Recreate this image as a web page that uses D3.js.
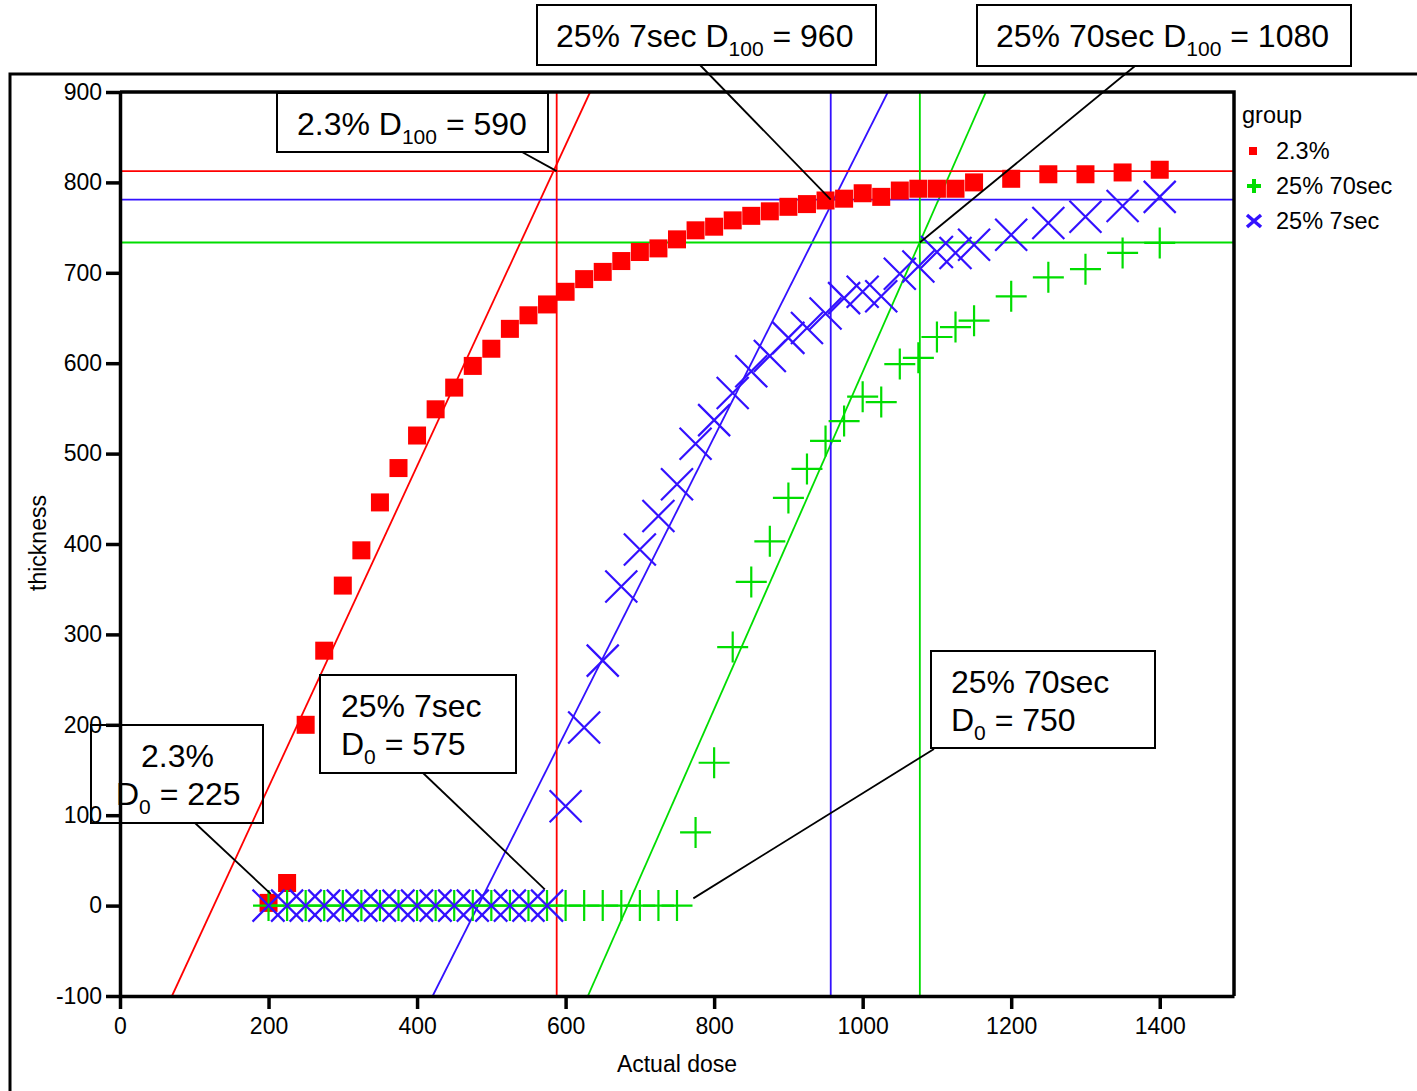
<!DOCTYPE html>
<html>
<head>
<meta charset="utf-8">
<script src="https://cdn.jsdelivr.net/npm/d3@7"></script>
<style>
  body { margin: 0; background: #fff; }
  svg { display: block; font-family: "Liberation Sans", Arial, sans-serif; }
</style>
</head>
<body>
<svg id="chart" width="1417" height="1091"></svg>
<script>
// ---- data ----
var groups = ['2.3%', '25% 70sec', '25% 7sec'];
var colors = ['#ff0000', '#00dd00', '#3311ff'];

var redDose = [200, 225, 250, 275, 300, 325, 350, 375, 400, 425, 450, 475, 500, 525, 550, 575, 600, 625, 650, 675, 700, 725, 750, 775, 800, 825, 850, 875, 900, 925, 950, 975, 1000, 1025, 1050, 1075, 1100, 1125, 1150, 1200, 1250, 1300, 1350, 1400];
var redThick = [3, 25, 200, 282, 354, 393, 446, 484, 520, 549, 573, 597, 616, 638, 653, 665, 679, 693, 701, 713, 723, 727, 737, 747, 751, 758, 763, 768, 773, 776, 780, 782, 788, 784, 791, 793, 793, 793, 800, 804, 809, 809, 811, 814];

var greenDose = [200, 225, 250, 275, 300, 325, 350, 375, 400, 425, 450, 475, 500, 525, 550, 575, 600, 625, 650, 675, 700, 725, 750, 775, 800, 825, 850, 875, 900, 925, 950, 975, 1000, 1025, 1050, 1075, 1100, 1125, 1150, 1200, 1250, 1300, 1350, 1400];
var greenThick = [0, 0, 0, 0, 0, 0, 0, 0, 0, 0, 0, 0, 0, 0, 0, 0, 0, 0, 0, 0, 0, 0, 0, 81, 158, 286, 358, 403, 451, 483, 514, 536, 563, 557, 599, 606, 629, 640, 647, 674, 695, 704, 722, 733];

var blueDose = [200, 225, 250, 275, 300, 325, 350, 375, 400, 425, 450, 475, 500, 525, 550, 575, 600, 625, 650, 675, 700, 725, 750, 775, 800, 825, 850, 875, 900, 925, 950, 975, 1000, 1025, 1050, 1075, 1100, 1125, 1150, 1200, 1250, 1300, 1350, 1400];
var blueThick = [0, 0, 0, 0, 0, 0, 0, 0, 0, 0, 0, 0, 0, 0, 0, 0, 110, 197, 271, 353, 394, 431, 466, 511, 537, 567, 591, 608, 628, 639, 655, 672, 679, 674, 699, 707, 723, 722, 731, 742, 755, 762, 774, 784];

// fitted straight lines: [dose at -100, dose at 900]
var fitDoseLow = [70, 630, 421];
var fitDoseHigh = [633, 1166, 1034];
// D100 reference lines
var d100Dose = [588, 1077, 957];
var d100Thick = [812.5, 733.5, 781];

var xTicks = [0, 200, 400, 600, 800, 1000, 1200, 1400];
var yTicks = [-100, 0, 100, 200, 300, 400, 500, 600, 700, 800, 900];

// annotation boxes: text lines, box, leader target in data units
var notes = [
  { lines: [['2.3% D', '100', ' = 590']], box: [277, 93, 271, 59], tx: [297], ty: [135], from: [522, 152], to: [588, 812.5] },
  { lines: [['25% 7sec D', '100', ' = 960']], box: [537, 5, 339, 60], tx: [556], ty: [47], from: [700, 65], to: [957, 781] },
  { lines: [['25% 70sec D', '100', ' = 1080']], box: [977, 5, 374, 61], tx: [996], ty: [47], from: [1135, 66], to: [1077, 733.5] },
  { lines: [['2.3%'], ['D', '0', ' = 225']], box: [91, 725, 172, 98], tx: [141, 116], ty: [767, 805], from: [195, 823], to: [203, 13] },
  { lines: [['25% 7sec'], ['D', '0', ' = 575']], box: [320, 675, 196, 98], tx: [341, 341], ty: [717, 755], from: [423, 773], to: [572, 18] },
  { lines: [['25% 70sec'], ['D', '0', ' = 750']], box: [931, 651, 224, 97], tx: [951, 951], ty: [693, 731], from: [934, 749], to: [772, 8] }
];

// ---- layout ----
var plot = { left: 120, top: 92, right: 1234, bottom: 996 };
var svg = d3.select('#chart');

var x = d3.scaleLinear().domain([0, 1500]).range([plot.left, plot.right]);
var y = d3.scaleLinear().domain([-100, 900]).range([plot.bottom, plot.top]);

svg.append('defs').append('clipPath').attr('id', 'clip')
  .append('rect')
  .attr('x', plot.left).attr('y', plot.top)
  .attr('width', plot.right - plot.left).attr('height', plot.bottom - plot.top);

var body = svg.append('g').attr('clip-path', 'url(#clip)');

// fit lines
body.selectAll('.fit').data(groups).enter().append('line')
  .attr('x1', function(d, i) { return x(fitDoseLow[i]); })
  .attr('y1', y(-100))
  .attr('x2', function(d, i) { return x(fitDoseHigh[i]); })
  .attr('y2', y(900))
  .attr('stroke', function(d, i) { return colors[i]; })
  .attr('stroke-width', 1.8);

// horizontal + vertical reference lines
body.selectAll('.href').data(groups).enter().append('line')
  .attr('x1', plot.left).attr('x2', plot.right)
  .attr('y1', function(d, i) { return y(d100Thick[i]); })
  .attr('y2', function(d, i) { return y(d100Thick[i]); })
  .attr('stroke', function(d, i) { return colors[i]; })
  .attr('stroke-width', 1.8);
body.selectAll('.vref').data(groups).enter().append('line')
  .attr('y1', plot.top).attr('y2', plot.bottom)
  .attr('x1', function(d, i) { return x(d100Dose[i]); })
  .attr('x2', function(d, i) { return x(d100Dose[i]); })
  .attr('stroke', function(d, i) { return colors[i]; })
  .attr('stroke-width', 1.8);

// red squares
var sq = 18;
body.selectAll('.sq').data(redDose).enter().append('rect')
  .attr('x', function(d) { return x(d) - sq / 2; })
  .attr('y', function(d, i) { return y(redThick[i]) - sq / 2; })
  .attr('width', sq).attr('height', sq)
  .attr('fill', colors[0]);

// green plus
var ps = 15.5;
body.selectAll('.plus').data(greenDose).enter().append('path')
  .attr('d', function(d, i) {
    var cx = x(d), cy = y(greenThick[i]);
    return 'M' + (cx - ps) + ',' + cy + 'H' + (cx + ps) + 'M' + cx + ',' + (cy - ps) + 'V' + (cy + ps);
  })
  .attr('stroke', colors[1]).attr('stroke-width', 2.2).attr('fill', 'none');

// blue crosses
var xs = 16;
body.selectAll('.cross').data(blueDose).enter().append('path')
  .attr('d', function(d, i) {
    var cx = x(d), cy = y(blueThick[i]);
    return 'M' + (cx - xs) + ',' + (cy - xs) + 'L' + (cx + xs) + ',' + (cy + xs) +
      'M' + (cx - xs) + ',' + (cy + xs) + 'L' + (cx + xs) + ',' + (cy - xs);
  })
  .attr('stroke', colors[2]).attr('stroke-width', 2.2).attr('fill', 'none');

// axes
var plain = function(d) { return String(d); };
var yAxis = svg.append('g').attr('transform', 'translate(' + plot.left + ',0)')
  .call(d3.axisLeft(y).tickValues(yTicks).tickFormat(plain).tickSize(14).tickSizeOuter(0).tickPadding(4));
var xAxis = svg.append('g').attr('transform', 'translate(0,' + plot.bottom + ')')
  .call(d3.axisBottom(x).tickValues(xTicks).tickFormat(plain).tickSize(13).tickSizeOuter(0).tickPadding(9));
[yAxis, xAxis].forEach(function(a) {
  a.attr('font-family', '"Liberation Sans", Arial, sans-serif').attr('font-size', 23);
  a.selectAll('path, line').attr('stroke', '#000').attr('stroke-width', 3.5);
  a.selectAll('text').attr('fill', '#000');
});
xAxis.selectAll('text').attr('dy', '0.71em');

// frame top + right of plot
svg.append('path')
  .attr('d', 'M' + plot.left + ',' + plot.top + 'H' + plot.right + 'V' + plot.bottom)
  .attr('fill', 'none').attr('stroke', '#000').attr('stroke-width', 3.5);

// outer frame
svg.append('path')
  .attr('d', 'M10,1091V74H1417')
  .attr('fill', 'none').attr('stroke', '#000').attr('stroke-width', 3);

// axis titles
svg.append('text')
  .attr('x', (plot.left + plot.right) / 2).attr('y', 1072)
  .attr('text-anchor', 'middle').style('font-size', '23px')
  .text('Actual dose');
svg.append('text')
  .attr('transform', 'translate(46,543) rotate(-90)')
  .attr('text-anchor', 'middle').style('font-size', '23px')
  .text('thickness');

// legend
var legend = svg.append('g');
legend.append('text').attr('x', 1242).attr('y', 123).style('font-size', '23.5px').text('group');
var legY = [151, 186, 221];
legend.selectAll('.lt').data(groups).enter().append('text')
  .attr('x', 1276).attr('y', function(d, i) { return legY[i] + 8; })
  .style('font-size', '23.5px').text(function(d) { return d; });
legend.append('rect').attr('x', 1249).attr('y', legY[0] - 4).attr('width', 8).attr('height', 8).attr('fill', colors[0]);
legend.append('path')
  .attr('d', 'M1247,' + legY[1] + 'H1261M1254,' + (legY[1] - 7) + 'V' + (legY[1] + 7))
  .attr('stroke', colors[1]).attr('stroke-width', 4);
legend.append('path')
  .attr('d', 'M1247,' + (legY[2] - 6) + 'L1261,' + (legY[2] + 6) + 'M1247,' + (legY[2] + 6) + 'L1261,' + (legY[2] - 6))
  .attr('stroke', colors[2]).attr('stroke-width', 3.5);

// annotations
var ann = svg.append('g');
notes.forEach(function(n) {
  ann.append('line')
    .attr('x1', n.from[0]).attr('y1', n.from[1])
    .attr('x2', x(n.to[0])).attr('y2', y(n.to[1]))
    .attr('stroke', '#000').attr('stroke-width', 1.8);
  ann.append('rect')
    .attr('x', n.box[0]).attr('y', n.box[1]).attr('width', n.box[2]).attr('height', n.box[3])
    .attr('fill', 'none').attr('stroke', '#000').attr('stroke-width', 2);
  n.lines.forEach(function(parts, li) {
    var t = ann.append('text').attr('x', n.tx[li]).attr('y', n.ty[li]).style('font-size', '32px');
    t.append('tspan').text(parts[0]);
    if (parts.length > 1) {
      t.append('tspan').attr('dy', 9).style('font-size', '21px').text(parts[1]);
      t.append('tspan').attr('dy', -9).text(parts[2]);
    }
  });
});
</script>
</body>
</html>
